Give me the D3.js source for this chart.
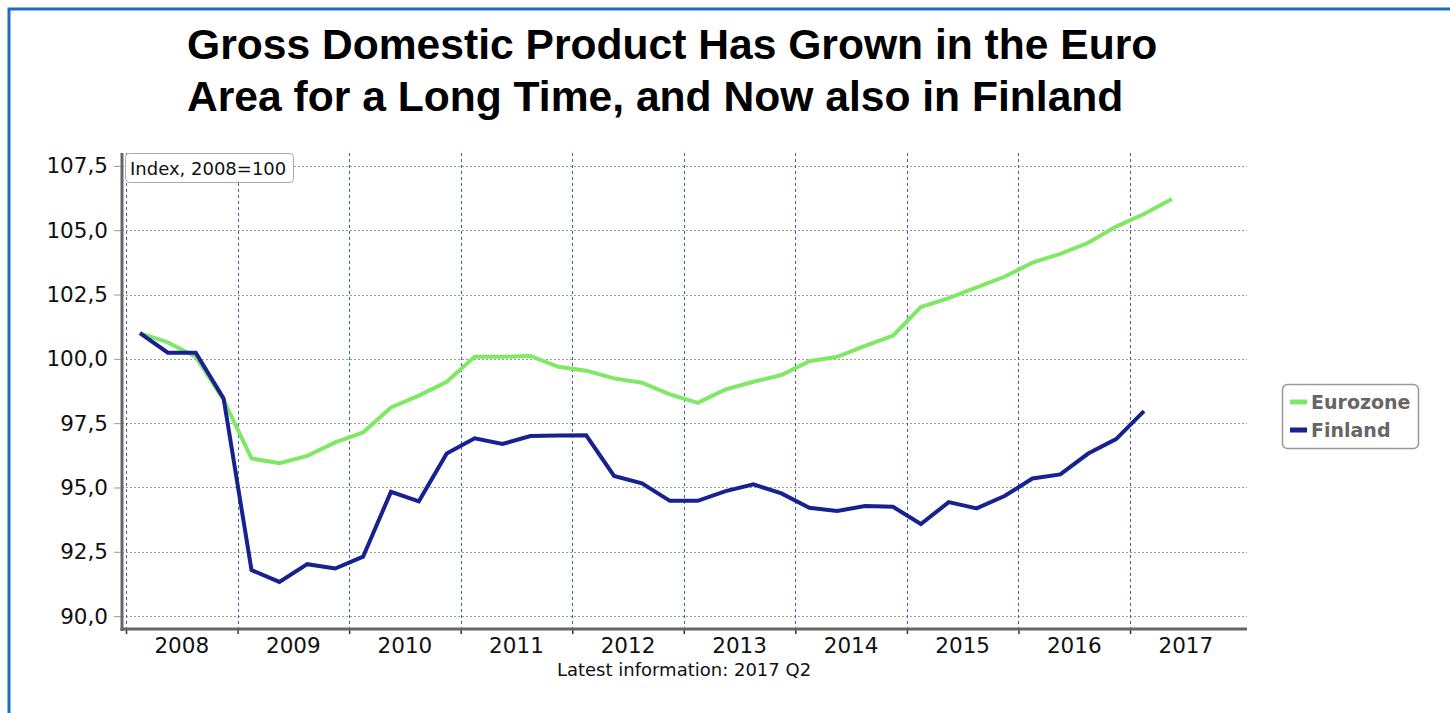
<!DOCTYPE html>
<html>
<head>
<meta charset="utf-8">
<script src="https://cdn.jsdelivr.net/npm/d3@7"></script>
<style>
  html, body { margin: 0; padding: 0; background: #fff; }
  svg { display: block; }
</style>
</head>
<body>
<svg id="chart" width="1450" height="713"></svg>
<script>
const titleLines = ["Gross Domestic Product Has Grown in the Euro", "Area for a Long Time, and Now also in Finland"];
const years = ["2008","2009","2010","2011","2012","2013","2014","2015","2016","2017"];
const yTicks = [90, 92.5, 95, 97.5, 100, 102.5, 105, 107.5];
const unitNote = "Index, 2008=100";
const footNote = "Latest information: 2017 Q2";
const seriesNames = ["Eurozone", "Finland"];
// Quarterly values, starting 2008 Q1
const eurozone = [101.0, 100.64, 100.08, 98.4, 96.13, 95.94, 96.23, 96.75, 97.14, 98.11,
  98.57, 99.11, 100.08, 100.08, 100.11, 99.69, 99.54, 99.24, 99.07, 98.62,
  98.29, 98.81, 99.11, 99.37, 99.91, 100.08, 100.5, 100.9, 102.01, 102.36,
  102.78, 103.19, 103.74, 104.08, 104.51, 105.14, 105.63, 106.21];
const finland = [101.0, 100.24, 100.24, 98.46, 91.79, 91.33, 92.02, 91.85, 92.31, 94.83,
  94.46, 96.32, 96.91, 96.69, 97.0, 97.02, 97.03, 95.45, 95.16, 94.48,
  94.48, 94.86, 95.12, 94.77, 94.21, 94.09, 94.28, 94.25, 93.58, 94.43,
  94.19, 94.67, 95.35, 95.51, 96.32, 96.88, 97.97];

const colors = {Eurozone: "#80e866", Finland: "#17218f"};

const svg = d3.select("#chart");

// outer frame
svg.append("rect").attr("x", 9).attr("y", 9).attr("width", 1500).attr("height", 800)
  .attr("fill", "none").attr("stroke", "#1a6cc6").attr("stroke-width", 3);

// title
const title = svg.append("text").attr("font-family", "Liberation Sans, Arial, sans-serif")
  .attr("font-weight", "bold").attr("font-size", 42.6).attr("fill", "#000");
titleLines.forEach((t, i) => {
  title.append("tspan").attr("x", 187).attr("y", 59 + i * 52).text(t);
});

const axisLeft = 122, axisRight = 1247, plotTop = 153, plotBottom = 629;
const x = d3.scaleLinear().domain([-0.5, 39.5]).range([126, 1241.6]);
const y = d3.scaleLinear().domain([89.5, 108]).range([plotBottom, plotTop]);

const g = svg.append("g");

// horizontal grid
g.selectAll(".hgrid").data(yTicks).join("line")
  .attr("x1", axisLeft).attr("x2", axisRight)
  .attr("y1", d => Math.round(y(d)) + 0.5).attr("y2", d => Math.round(y(d)) + 0.5)
  .attr("stroke", "#9a9a9a").attr("stroke-width", 1).attr("stroke-dasharray", "2,2");

// vertical year boundaries
const bounds = years.map((yr, i) => i * 4 - 0.5);
g.selectAll(".vgrid").data(bounds).join("line")
  .attr("x1", d => Math.round(x(d)) + 0.5).attr("x2", d => Math.round(x(d)) + 0.5)
  .attr("y1", plotTop).attr("y2", plotBottom)
  .attr("stroke", "#3f6298").attr("stroke-width", 1).attr("stroke-dasharray", "3,3");

// y axis with d3
const fmt = d => d3.format(".1f")(d).replace(".", ",");
const yAxis = d3.axisLeft(y).tickValues(yTicks).tickFormat(fmt).tickSize(7).tickPadding(6);
const yg = svg.append("g").attr("transform", `translate(${axisLeft - 1},0)`).call(yAxis);
yg.select(".domain").remove();
yg.selectAll(".tick line").attr("stroke", "#999");
yg.selectAll(".tick text").attr("font-family", "DejaVu Sans, Verdana, sans-serif")
  .attr("font-size", 21.5).attr("fill", "#111");

// x axis: year labels at mid-year, ticks at boundaries
const xAxisG = svg.append("g").attr("transform", `translate(0,${plotBottom})`);
xAxisG.call(d3.axisBottom(x).tickValues(bounds).tickFormat("").tickSize(5))
  .call(s => s.select(".domain").remove());
xAxisG.selectAll(".tick line").attr("stroke", "#333").attr("stroke-width", 1.5);
xAxisG.selectAll(".ylab").data(years).join("text")
  .attr("x", (d, i) => x(i * 4 + 1.5)).attr("y", 24)
  .attr("text-anchor", "middle").attr("font-family", "DejaVu Sans, Verdana, sans-serif")
  .attr("font-size", 21.5).attr("fill", "#111").text(d => d);

// axis lines
svg.append("line").attr("x1", axisLeft).attr("x2", axisLeft).attr("y1", plotTop).attr("y2", plotBottom + 2)
  .attr("stroke", "#666").attr("stroke-width", 3);
svg.append("line").attr("x1", axisLeft - 1.5).attr("x2", axisRight).attr("y1", plotBottom).attr("y2", plotBottom)
  .attr("stroke", "#666").attr("stroke-width", 3);

// lines
const line = d3.line().x((d, i) => x(i)).y(d => y(d));
[["Eurozone", eurozone], ["Finland", finland]].forEach(([name, vals]) => {
  svg.append("path").datum(vals).attr("d", line).attr("fill", "none")
    .attr("stroke", colors[name]).attr("stroke-width", 4).attr("stroke-linejoin", "miter");
});

// unit note box
const nb = svg.append("g");
nb.append("rect").attr("x", 125.5).attr("y", 153.5).attr("width", 168).attr("height", 29)
  .attr("rx", 4).attr("fill", "#fff").attr("stroke", "#aaa").attr("stroke-width", 1);
nb.append("text").attr("x", 130).attr("y", 175).attr("font-family", "DejaVu Sans, Verdana, sans-serif")
  .attr("font-size", 18).attr("fill", "#111").text(unitNote);

// footnote
svg.append("text").attr("x", 684).attr("y", 676).attr("text-anchor", "middle")
  .attr("font-family", "DejaVu Sans, Verdana, sans-serif").attr("font-size", 18)
  .attr("fill", "#111").text(footNote);

// legend
const lg = svg.append("g");
lg.append("rect").attr("x", 1282.5).attr("y", 384.5).attr("width", 136).attr("height", 64)
  .attr("rx", 5).attr("fill", "#fff").attr("stroke", "#999").attr("stroke-width", 1.5);
seriesNames.forEach((n, i) => {
  const cy = 402 + i * 28;
  lg.append("line").attr("x1", 1290).attr("x2", 1307).attr("y1", cy).attr("y2", cy)
    .attr("stroke", colors[n]).attr("stroke-width", 5);
  lg.append("text").attr("x", 1311).attr("y", cy + 7).attr("font-family", "DejaVu Sans, Verdana, sans-serif")
    .attr("font-weight", "bold").attr("font-size", 19).attr("fill", "#666").text(n);
});
</script>
</body>
</html>
